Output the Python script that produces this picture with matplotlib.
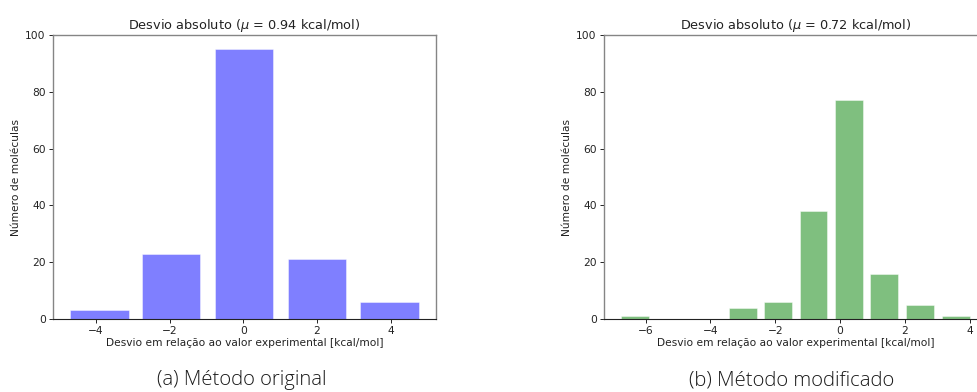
import matplotlib
matplotlib.use("Agg")
import matplotlib.pyplot as plt

# Data
orig_centers = [-3.9, -1.96, 0.015, 2.0, 3.97]
orig_counts = [3, 23, 95, 21, 6]
orig_mu = 0.94

mod_centers = [-6.32, -5.23, -4.14, -3.0, -1.92, -0.82, 0.28, 1.37, 2.47, 3.57]
mod_counts = [1, 0, 0, 4, 6, 38, 77, 16, 5, 1]
mod_mu = 0.72

yticks = [0, 20, 40, 60, 80, 100]
title_tpl = r"Desvio absoluto ($\mu$ = {:.2f} kcal/mol)"
xlabel = "Desvio em relação ao valor experimental [kcal/mol]"
ylabel = "Número de moléculas"
captions = ["(a) Método original", "(b) Método modificado"]

W, H = 977, 392
fig = plt.figure(figsize=(W / 100, H / 100), dpi=100)

fs_tick = 7.7
fs_title = 9.3
txt_color = "#222222"

def make_ax(left_px, centers, counts, width, color, mu, xticks):
    ax = fig.add_axes([left_px / W, 1 - 319 / H, 383 / W, 284 / H])
    ax.bar(centers, counts, width=width, color=color, alpha=0.5,
           edgecolor="white", linewidth=0.6)
    ax.set_ylim(0, 100)
    ax.set_yticks(yticks)
    ax.set_xticks(xticks)
    ax.set_xticklabels([f"{t}".replace("-", "\u2212") for t in xticks])
    ax.tick_params(labelsize=fs_tick, length=2.7, width=0.6, pad=2.5,
                   labelcolor=txt_color)
    ax.set_title(title_tpl.format(mu), fontsize=fs_title, pad=4, color=txt_color)
    ax.set_xlabel(xlabel, fontsize=fs_tick, labelpad=1.5, color=txt_color)
    ax.set_ylabel(ylabel, fontsize=fs_tick, labelpad=3, color=txt_color)
    for s in ["top", "left", "right"]:
        ax.spines[s].set_color("#858585")
        ax.spines[s].set_linewidth(1.0)
    ax.spines["bottom"].set_color("#222222")
    ax.spines["bottom"].set_linewidth(0.8)
    return ax

ax1 = make_ax(53, orig_centers, orig_counts, 1.58, "blue", orig_mu, [-4, -2, 0, 2, 4])
ax2 = make_ax(604, mod_centers, mod_counts, 0.86, "green", mod_mu, [-6, -4, -2, 0, 2, 4])

fig.text(242 / W, 1 - 380 / H, captions[0], ha="center", va="center",
         fontsize=14.6, family="Open Sans", weight="light", color="#1a1a1a")
fig.text(792 / W, 1 - 380 / H, captions[1], ha="center", va="center",
         fontsize=14.6, family="Open Sans", weight="light", color="#1a1a1a")

fig.savefig("out.png", dpi=100)
